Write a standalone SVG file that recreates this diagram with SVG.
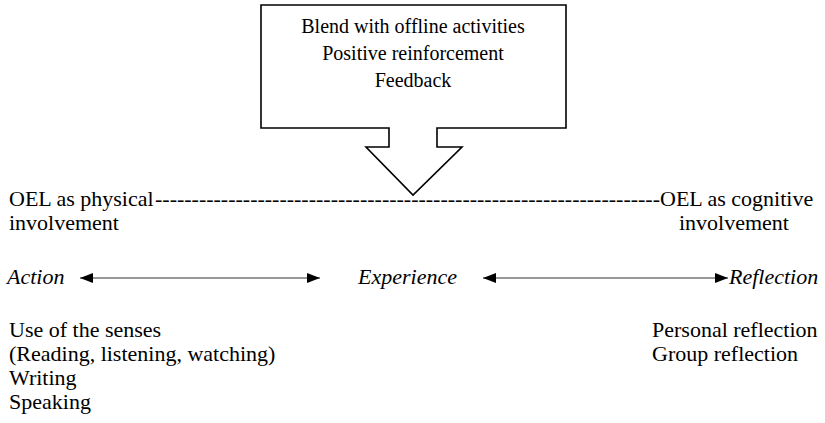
<svg xmlns="http://www.w3.org/2000/svg" width="825" height="423" viewBox="0 0 825 423">
  <defs>
    <marker id="head" viewBox="0 0 13 10" refX="13" refY="5" markerWidth="13" markerHeight="10" markerUnits="userSpaceOnUse" orient="auto-start-reverse">
      <path d="M0,0 L13,5 L0,10 Z" fill="#000"/>
    </marker>
  </defs>
  <rect width="825" height="423" fill="#fff"/>

  <g id="callout">
    <path fill="#fff" stroke="#000" stroke-width="1.6" d="M261,5 H566 V128 H437 V147 H462 L413,195 L366,147 H389 V128 H261 Z"/>
    <text font-family="Liberation Serif" font-size="20" text-anchor="middle" x="413" y="33">Blend with offline activities</text>
    <text font-family="Liberation Serif" font-size="20" text-anchor="middle" x="413" y="60">Positive reinforcement</text>
    <text font-family="Liberation Serif" font-size="20" text-anchor="middle" x="413" y="87">Feedback</text>
  </g>

  <g id="physical">
    <text font-family="Liberation Serif" font-size="22" x="9" y="206">OEL as physical</text>
    <text font-family="Liberation Serif" font-size="22" x="9" y="230">involvement</text>
  </g>

  <g id="cognitive">
    <text font-family="Liberation Serif" font-size="22" x="660" y="206">OEL as cognitive</text>
    <text font-family="Liberation Serif" font-size="22" x="734" y="230" text-anchor="middle">involvement</text>
  </g>

  <g id="action">
    <text font-family="Liberation Serif" font-size="22" font-style="italic" x="7" y="284">Action</text>
  </g>
  <g id="experience">
    <text font-family="Liberation Serif" font-size="22" font-style="italic" x="358" y="284">Experience</text>
  </g>
  <g id="reflection">
    <text font-family="Liberation Serif" font-size="22" font-style="italic" x="729" y="284">Reflection</text>
  </g>

  <g id="action-list">
    <text font-family="Liberation Serif" font-size="22" x="9" y="337">Use of the senses</text>
    <text font-family="Liberation Serif" font-size="22" x="9" y="361">(Reading, listening, watching)</text>
    <text font-family="Liberation Serif" font-size="22" x="9" y="385">Writing</text>
    <text font-family="Liberation Serif" font-size="22" x="9" y="409">Speaking</text>
  </g>

  <g id="reflection-list">
    <text font-family="Liberation Serif" font-size="22" x="652" y="337">Personal reflection</text>
    <text font-family="Liberation Serif" font-size="22" x="652" y="361">Group reflection</text>
  </g>

  <g id="connectors">
    <text font-family="Liberation Serif" font-size="22" x="155" y="206" textLength="505" lengthAdjust="spacing">---------------------------------------------------------------------</text>
    <line stroke="#333" stroke-width="1.2" x1="80" y1="278" x2="320" y2="278" marker-start="url(#head)" marker-end="url(#head)"/>
    <line stroke="#333" stroke-width="1.2" x1="483" y1="278" x2="728" y2="278" marker-start="url(#head)" marker-end="url(#head)"/>
  </g>
</svg>
